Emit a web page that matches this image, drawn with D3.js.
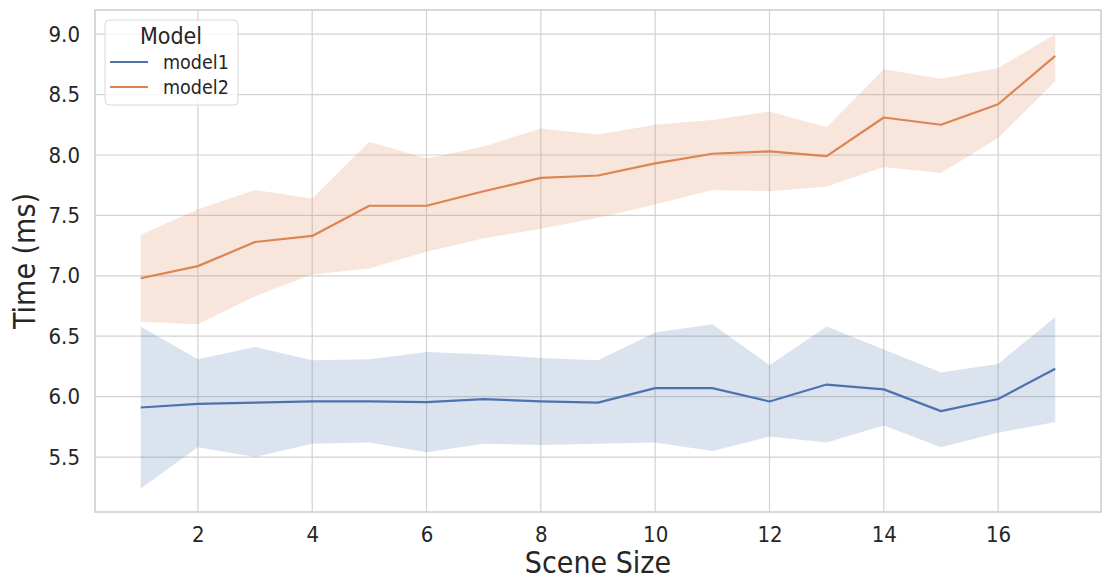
<!DOCTYPE html>
<html>
<head>
<meta charset="utf-8">
<script src="https://cdn.jsdelivr.net/npm/d3@7"></script>
<style>
    body { margin: 0; background: #fff; }
    svg { display: block; }
    text { font-family: "DejaVu Sans Condensed", "DejaVu Sans", sans-serif; fill: #262626; }
</style>
</head>
<body>
<svg id="time-plot"></svg>
<script>
// Scene sizes on the x axis
const sceneSizes = [1, 2, 3, 4, 5, 6, 7, 8, 9, 10, 11, 12, 13, 14, 15, 16, 17];

// model1: mean and confidence band
const model1Mean  = [5.91, 5.94, 5.95, 5.96, 5.96, 5.955, 5.98, 5.96, 5.95, 6.07, 6.07, 5.96, 6.10, 6.06, 5.88, 5.98, 6.23];
const model1Lower = [5.24, 5.58, 5.50, 5.61, 5.62, 5.54, 5.61, 5.60, 5.61, 5.62, 5.55, 5.67, 5.62, 5.76, 5.58, 5.70, 5.79];
const model1Upper = [6.58, 6.31, 6.41, 6.30, 6.31, 6.37, 6.35, 6.32, 6.30, 6.53, 6.60, 6.26, 6.58, 6.39, 6.20, 6.27, 6.66];

// model2: mean and confidence band
const model2Mean  = [6.98, 7.08, 7.28, 7.33, 7.58, 7.58, 7.70, 7.81, 7.83, 7.93, 8.01, 8.03, 7.99, 8.31, 8.25, 8.42, 8.82];
const model2Lower = [6.62, 6.60, 6.83, 7.01, 7.06, 7.20, 7.31, 7.39, 7.48, 7.59, 7.71, 7.70, 7.74, 7.90, 7.85, 8.14, 8.61];
const model2Upper = [7.34, 7.55, 7.71, 7.64, 8.11, 7.97, 8.07, 8.22, 8.17, 8.25, 8.29, 8.36, 8.23, 8.71, 8.63, 8.72, 9.00];

const xTicks = [2, 4, 6, 8, 10, 12, 14, 16];
const yTicks = [5.5, 6.0, 6.5, 7.0, 7.5, 8.0, 8.5, 9.0];

const modelNames = ["model1", "model2"];

class TimeChart {
    constructor() {
        this.vizWidth = 1102;
        this.vizHeight = 579;
        this.margin = {
            top: 10,
            bottom: 67,
            left: 95,
            right: 1
        };
        this.colors = d3.scaleOrdinal().domain(modelNames).range(["#4c72b0", "#dd8452"]);

        this.series = [
            { name: "model1", mean: model1Mean, lower: model1Lower, upper: model1Upper },
            { name: "model2", mean: model2Mean, lower: model2Lower, upper: model2Upper }
        ];
    }

    draw() {
        let svg = d3.select("#time-plot")
            .attr("width", this.vizWidth)
            .attr("height", this.vizHeight);

        // Scales
        this.xScale = d3.scaleLinear()
            .domain([0.2, 17.8])
            .range([this.margin.left, this.vizWidth - this.margin.right]);

        this.yScale = d3.scaleLinear()
            .domain([5.045, 9.2])
            .range([this.vizHeight - this.margin.bottom, this.margin.top]);

        this.drawGrid(svg);
        this.drawSeries(svg);
        this.drawAxes(svg);
        this.drawLegend(svg);
    }

    drawGrid(svg) {
        let x0 = this.margin.left, x1 = this.vizWidth - this.margin.right;
        let y0 = this.margin.top, y1 = this.vizHeight - this.margin.bottom;

        let grid = svg.append("g").attr("stroke", "#d2d2d2").attr("stroke-width", 1.2);

        grid.selectAll(".vgrid")
            .data(xTicks)
            .join("line")
            .attr("x1", d => this.xScale(d))
            .attr("x2", d => this.xScale(d))
            .attr("y1", y0)
            .attr("y2", y1);

        grid.selectAll(".hgrid")
            .data(yTicks)
            .join("line")
            .attr("x1", x0)
            .attr("x2", x1)
            .attr("y1", d => this.yScale(d))
            .attr("y2", d => this.yScale(d));
    }

    drawSeries(svg) {
        let area = d3.area()
            .x((d, i) => this.xScale(sceneSizes[i]))
            .y0(d => this.yScale(d[0]))
            .y1(d => this.yScale(d[1]));

        let line = d3.line()
            .x((d, i) => this.xScale(sceneSizes[i]))
            .y(d => this.yScale(d));

        // Confidence bands first, then the mean lines on top
        svg.append("g")
            .selectAll("path")
            .data(this.series)
            .join("path")
            .attr("d", s => area(s.lower.map((v, i) => [v, s.upper[i]])))
            .attr("fill", s => this.colors(s.name))
            .attr("fill-opacity", 0.2);

        svg.append("g")
            .selectAll("path")
            .data(this.series)
            .join("path")
            .attr("d", s => line(s.mean))
            .attr("fill", "none")
            .attr("stroke", s => this.colors(s.name))
            .attr("stroke-width", 2.2)
            .attr("stroke-linejoin", "round");
    }

    drawAxes(svg) {
        let h = this.vizHeight - this.margin.bottom;

        let xAxis = g => g
            .attr("transform", `translate(0,${h})`)
            .call(d3.axisBottom(this.xScale).tickValues(xTicks).tickSize(0).tickPadding(14))
            .call(g => g.select(".domain").remove())
            .call(g => g.selectAll("text").attr("font-size", 22).attr("font-family", null).attr("fill", "#262626"));

        let yAxis = g => g
            .attr("transform", `translate(${this.margin.left},0)`)
            .call(d3.axisLeft(this.yScale).tickValues(yTicks).tickFormat(d3.format(".1f")).tickSize(0).tickPadding(15))
            .call(g => g.select(".domain").remove())
            .call(g => g.selectAll("text").attr("font-size", 22).attr("font-family", null).attr("fill", "#262626"));

        svg.append("g").call(xAxis);
        svg.append("g").call(yAxis);

        // Frame (spines)
        svg.append("rect")
            .attr("x", this.margin.left)
            .attr("y", this.margin.top)
            .attr("width", this.vizWidth - this.margin.right - this.margin.left)
            .attr("height", h - this.margin.top)
            .attr("fill", "none")
            .attr("stroke", "#cccccc")
            .attr("stroke-width", 1.5);

        // Axis labels
        svg.append("text")
            .attr("x", (this.margin.left + this.vizWidth - this.margin.right) / 2)
            .attr("y", 573)
            .attr("text-anchor", "middle")
            .attr("font-size", 30)
            .text("Scene Size");

        svg.append("text")
            .attr("transform", `translate(35,${(this.margin.top + h) / 2}) rotate(-90)`)
            .attr("text-anchor", "middle")
            .attr("font-size", 30)
            .text("Time (ms)");
    }

    drawLegend(svg) {
        let legend = svg.append("g");

        legend.append("rect")
            .attr("x", 105)
            .attr("y", 20)
            .attr("width", 133)
            .attr("height", 85)
            .attr("rx", 4)
            .attr("fill", "#ffffff")
            .attr("fill-opacity", 0.8)
            .attr("stroke", "#d8d8d8")
            .attr("stroke-width", 1);

        legend.append("text")
            .attr("x", 171)
            .attr("y", 44)
            .attr("text-anchor", "middle")
            .attr("font-size", 23)
            .text("Model");

        let rowHeight = 25;

        legend.selectAll(".legendLine")
            .data(modelNames)
            .join("line")
            .attr("x1", 110)
            .attr("x2", 148)
            .attr("y1", (d, i) => 62 + i * rowHeight)
            .attr("y2", (d, i) => 62 + i * rowHeight)
            .attr("stroke", d => this.colors(d))
            .attr("stroke-width", 2.2);

        legend.selectAll(".legendLabel")
            .data(modelNames)
            .join("text")
            .attr("x", 163)
            .attr("y", (d, i) => 69 + i * rowHeight)
            .attr("font-size", 19.5)
            .text(d => d);
    }
}

let chart = new TimeChart();
chart.draw();
</script>
</body>
</html>
